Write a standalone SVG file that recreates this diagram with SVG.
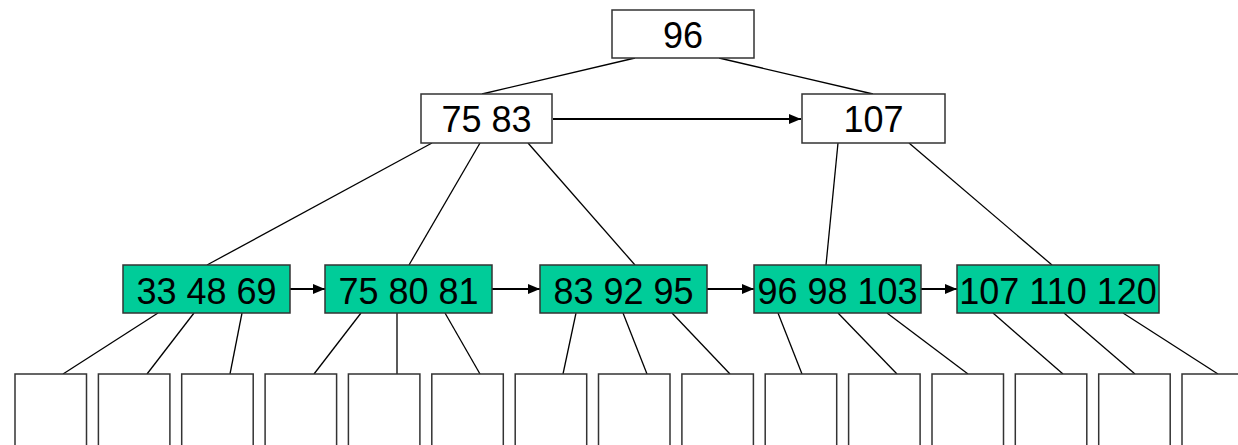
<svg xmlns="http://www.w3.org/2000/svg" width="1238" height="445" viewBox="0 0 1238 445">
<defs>
<style>
.box{fill:#fff;stroke:#333;stroke-width:1.5}
.leaf{fill:#00CC99;stroke:#333;stroke-width:1.5}
.pg{fill:#fff;stroke:#333;stroke-width:1.5}
.t{font-family:"Liberation Sans",Arial,sans-serif;font-size:36px;fill:#000;text-anchor:middle}
.ln{stroke:#000;stroke-width:1.3;fill:none}
.ar{stroke:#000;stroke-width:1.8;fill:none;marker-end:url(#ah)}
</style>
<marker id="ah" viewBox="0 0 12 10" refX="12" refY="5" markerWidth="12" markerHeight="10" markerUnits="userSpaceOnUse" orient="auto">
<path d="M0,0 L12,5 L0,10 Z" fill="#000"/>
</marker>
</defs>
<rect width="1238" height="445" fill="#fff"/>
<g id="connectors">
<line class="ln" x1="635" y1="58" x2="482" y2="94"/>
<line class="ln" x1="719" y1="58" x2="873" y2="94"/>
<line class="ar" x1="553" y1="119" x2="801" y2="119"/>
<line class="ln" x1="432" y1="143" x2="207" y2="265"/>
<line class="ln" x1="480" y1="143" x2="409" y2="265"/>
<line class="ln" x1="528" y1="143" x2="635" y2="265"/>
<line class="ln" x1="838" y1="143" x2="826" y2="265"/>
<line class="ln" x1="909" y1="143" x2="1052" y2="265"/>
<line class="ar" x1="290" y1="289" x2="325" y2="289"/>
<line class="ar" x1="492" y1="289" x2="540" y2="289"/>
<line class="ar" x1="707" y1="289" x2="754" y2="289"/>
<line class="ar" x1="921" y1="289" x2="957" y2="289"/>
<line class="ln" x1="158" y1="313" x2="63" y2="374"/>
<line class="ln" x1="194" y1="313" x2="147" y2="374"/>
<line class="ln" x1="242" y1="313" x2="230" y2="374"/>
<line class="ln" x1="361" y1="313" x2="314" y2="374"/>
<line class="ln" x1="397" y1="313" x2="397" y2="374"/>
<line class="ln" x1="445" y1="313" x2="480" y2="374"/>
<line class="ln" x1="576" y1="313" x2="563" y2="374"/>
<line class="ln" x1="623" y1="313" x2="647" y2="374"/>
<line class="ln" x1="672" y1="313" x2="730" y2="374"/>
<line class="ln" x1="778" y1="313" x2="802" y2="374"/>
<line class="ln" x1="838" y1="313" x2="897" y2="374"/>
<line class="ln" x1="887" y1="313" x2="968" y2="374"/>
<line class="ln" x1="993" y1="313" x2="1063" y2="374"/>
<line class="ln" x1="1064" y1="313" x2="1135" y2="374"/>
<line class="ln" x1="1123" y1="313" x2="1218" y2="374"/>
</g>
<g id="root"><rect class="box" x="612" y="10" width="142" height="48"/><text class="t" x="683" y="48">96</text></g>
<g id="n7583"><rect class="box" x="421" y="94" width="131" height="49"/><text class="t" x="486.5" y="132">75 83</text></g>
<g id="n107"><rect class="box" x="802" y="94" width="143" height="49"/><text class="t" x="873.5" y="132">107</text></g>
<g id="leaf1"><rect class="leaf" x="123" y="265" width="167" height="48"/><text class="t" x="206.5" y="304">33 48 69</text></g>
<g id="leaf2"><rect class="leaf" x="325" y="265" width="167" height="48"/><text class="t" x="408.5" y="304">75 80 81</text></g>
<g id="leaf3"><rect class="leaf" x="540" y="265" width="167" height="48"/><text class="t" x="623.5" y="304">83 92 95</text></g>
<g id="leaf4"><rect class="leaf" x="754" y="265" width="167" height="48"/><text class="t" x="837.5" y="304">96 98 103</text></g>
<g id="leaf5"><rect class="leaf" x="957" y="265" width="202" height="48"/><text class="t" x="1058" y="304">107 110 120</text></g>
<g id="page1"><rect class="pg" x="15" y="374" width="71.5" height="80"/></g>
<g id="page2"><rect class="pg" x="98.4" y="374" width="71.5" height="80"/></g>
<g id="page3"><rect class="pg" x="181.7" y="374" width="71.5" height="80"/></g>
<g id="page4"><rect class="pg" x="265.1" y="374" width="71.5" height="80"/></g>
<g id="page5"><rect class="pg" x="348.4" y="374" width="71.5" height="80"/></g>
<g id="page6"><rect class="pg" x="431.8" y="374" width="71.5" height="80"/></g>
<g id="page7"><rect class="pg" x="515.2" y="374" width="71.5" height="80"/></g>
<g id="page8"><rect class="pg" x="598.5" y="374" width="71.5" height="80"/></g>
<g id="page9"><rect class="pg" x="681.9" y="374" width="71.5" height="80"/></g>
<g id="page10"><rect class="pg" x="765.2" y="374" width="71.5" height="80"/></g>
<g id="page11"><rect class="pg" x="848.6" y="374" width="71.5" height="80"/></g>
<g id="page12"><rect class="pg" x="932" y="374" width="71.5" height="80"/></g>
<g id="page13"><rect class="pg" x="1015.3" y="374" width="71.5" height="80"/></g>
<g id="page14"><rect class="pg" x="1098.7" y="374" width="71.5" height="80"/></g>
<g id="page15"><rect class="pg" x="1182" y="374" width="71.5" height="80"/></g>
</svg>
